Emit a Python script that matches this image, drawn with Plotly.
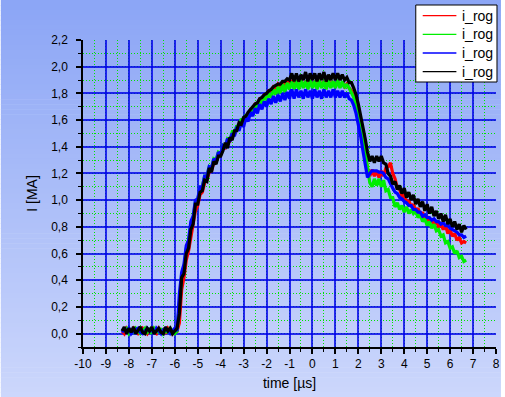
import numpy as np
import plotly.graph_objects as go

# sampling grid of the measurement (µs), -8.3 ... 6.7 in 0.1 steps
time_us = np.round(np.arange(-83, 68) / 10.0, 1)

series_names = ["i_rog", "i_rog", "i_rog", "i_rog"]
series_colors = ["#ff0000", "#00ee00", "#0000ff", "#000000"]

current_red = [
    0.02, 0.00, 0.04, 0.02, 0.01, 0.04, 0.02, 0.00, 0.02, 0.04,
    0.02, 0.00, 0.03, 0.04, 0.01, 0.00, 0.04, 0.02, 0.03, 0.00,
    0.04, 0.02, 0.00, 0.03, 0.02,
    0.08, 0.33, 0.42, 0.55, 0.62, 0.73, 0.81, 0.92, 0.96,
    1.04, 1.06, 1.13, 1.15, 1.21, 1.22, 1.28, 1.29, 1.33, 1.34,
    1.39, 1.39, 1.44, 1.44, 1.49, 1.49, 1.54, 1.55, 1.59, 1.60,
    1.63, 1.64, 1.68, 1.68, 1.72, 1.72, 1.76, 1.76, 1.79, 1.79,
    1.82, 1.82, 1.85, 1.84, 1.87, 1.85, 1.88, 1.85, 1.89, 1.85,
    1.90, 1.85, 1.89, 1.84, 1.90, 1.85, 1.89, 1.84, 1.90, 1.85,
    1.89, 1.84, 1.90, 1.85, 1.89, 1.84, 1.90, 1.85, 1.89, 1.85,
    1.89, 1.85, 1.88, 1.85, 1.87, 1.84, 1.82, 1.78, 1.72, 1.65,
    1.56, 1.46, 1.35, 1.24, 1.18, 1.23, 1.18, 1.22, 1.17, 1.22,
    1.18, 1.24, 1.25, 1.28, 1.20, 1.16, 1.09, 1.08, 1.03, 1.04,
    0.98, 1.00, 0.95, 0.97, 0.92, 0.94, 0.89, 0.91, 0.86, 0.88,
    0.83, 0.86, 0.81, 0.84, 0.80, 0.82, 0.78, 0.81, 0.75, 0.78,
    0.73, 0.75, 0.70, 0.72, 0.68, 0.69, 0.68,
]

current_green = [
    0.02, 0.03, 0.04, 0.00, 0.02, 0.01, 0.04, 0.02, 0.00, 0.02,
    0.04, 0.01, 0.03, 0.00, 0.04, 0.02, 0.01, 0.04, 0.00, 0.02,
    0.01, 0.04, 0.02, 0.00, 0.02,
    0.25, 0.43, 0.49, 0.64, 0.68, 0.82, 0.86, 0.99, 1.00,
    1.09, 1.10, 1.18, 1.18, 1.25, 1.24, 1.31, 1.30, 1.36, 1.35,
    1.41, 1.40, 1.46, 1.45, 1.51, 1.50, 1.56, 1.54, 1.61, 1.59,
    1.64, 1.62, 1.68, 1.66, 1.71, 1.69, 1.75, 1.72, 1.78, 1.75,
    1.80, 1.77, 1.83, 1.79, 1.85, 1.80, 1.87, 1.81, 1.88, 1.83,
    1.89, 1.83, 1.89, 1.83, 1.90, 1.84, 1.89, 1.83, 1.90, 1.84,
    1.89, 1.83, 1.90, 1.84, 1.89, 1.83, 1.90, 1.84, 1.89, 1.84,
    1.90, 1.84, 1.89, 1.84, 1.87, 1.84, 1.81, 1.77, 1.71, 1.64,
    1.56, 1.47, 1.36, 1.24, 1.13, 1.10, 1.16, 1.11, 1.16, 1.10,
    1.15, 1.07, 1.08, 1.02, 1.02, 0.95, 0.98, 0.93, 0.96, 0.91,
    0.95, 0.90, 0.93, 0.90, 0.92, 0.87, 0.89, 0.84, 0.86, 0.81,
    0.84, 0.79, 0.82, 0.77, 0.78, 0.73, 0.74, 0.68, 0.69, 0.64,
    0.65, 0.60, 0.62, 0.57, 0.58, 0.54, 0.55,
]

current_blue = [
    0.01, 0.03, 0.02, 0.04, 0.00, 0.02, 0.03, 0.04, 0.01, 0.00,
    0.02, 0.04, 0.02, 0.03, 0.00, 0.04, 0.02, 0.00, 0.03, 0.04,
    0.02, 0.00, 0.02, 0.04, 0.02,
    0.30, 0.46, 0.52, 0.66, 0.70, 0.84, 0.88, 1.00, 1.01,
    1.10, 1.10, 1.18, 1.18, 1.25, 1.24, 1.31, 1.29, 1.36, 1.34,
    1.41, 1.40, 1.46, 1.44, 1.50, 1.48, 1.55, 1.52, 1.58, 1.55,
    1.62, 1.59, 1.66, 1.63, 1.69, 1.65, 1.72, 1.68, 1.74, 1.70,
    1.76, 1.72, 1.78, 1.73, 1.79, 1.74, 1.80, 1.75, 1.81, 1.76,
    1.83, 1.76, 1.83, 1.77, 1.82, 1.76, 1.83, 1.77, 1.82, 1.76,
    1.83, 1.77, 1.82, 1.76, 1.83, 1.77, 1.82, 1.77, 1.83, 1.77,
    1.82, 1.77, 1.82, 1.77, 1.80, 1.76, 1.75, 1.71, 1.65, 1.57,
    1.48, 1.37, 1.26, 1.17, 1.20, 1.22, 1.22, 1.22, 1.21, 1.21,
    1.20, 1.17, 1.16, 1.12, 1.09, 1.06, 1.05, 1.02, 1.01, 0.99,
    0.98, 0.96, 0.96, 0.93, 0.93, 0.91, 0.91, 0.88, 0.89, 0.87,
    0.87, 0.85, 0.86, 0.84, 0.84, 0.82, 0.83, 0.81, 0.81, 0.79,
    0.78, 0.77, 0.76, 0.74, 0.74, 0.72, 0.73,
]

current_black = [
    0.02, 0.05, 0.00, 0.04, 0.01, 0.05, 0.00, 0.03, 0.05, 0.01,
    0.00, 0.04, 0.02, 0.05, 0.00, 0.02, 0.04, 0.01, 0.00, 0.05,
    0.02, 0.04, 0.00, 0.02, 0.04,
    0.15, 0.42, 0.45, 0.60, 0.64, 0.78, 0.82, 0.97, 0.97,
    1.06, 1.07, 1.15, 1.14, 1.24, 1.21, 1.29, 1.27, 1.33, 1.33,
    1.37, 1.43, 1.39, 1.47, 1.45, 1.52, 1.52, 1.58, 1.57, 1.62,
    1.63, 1.66, 1.68, 1.70, 1.72, 1.73, 1.76, 1.77, 1.79, 1.80,
    1.82, 1.83, 1.85, 1.86, 1.87, 1.87, 1.89, 1.89, 1.91, 1.90,
    1.95, 1.89, 1.95, 1.89, 1.94, 1.90, 1.96, 1.89, 1.95, 1.90,
    1.95, 1.89, 1.95, 1.90, 1.96, 1.89, 1.94, 1.90, 1.95, 1.90,
    1.95, 1.90, 1.94, 1.90, 1.92, 1.88, 1.88, 1.84, 1.79, 1.72,
    1.64, 1.55, 1.46, 1.36, 1.29, 1.33, 1.28, 1.33, 1.29, 1.33,
    1.28, 1.27, 1.20, 1.18, 1.12, 1.14, 1.08, 1.11, 1.05, 1.09,
    1.02, 1.06, 1.00, 1.04, 0.97, 1.01, 0.95, 0.99, 0.92, 0.97,
    0.90, 0.95, 0.88, 0.92, 0.86, 0.90, 0.84, 0.89, 0.82, 0.86,
    0.80, 0.84, 0.78, 0.82, 0.76, 0.81, 0.78,
]

x_tick_vals = list(range(-10, 9))
x_tick_labels = ["-10", "-9", "-8", "-7", "-6", "-5", "-4", "-3", "-2", "-1",
                 "0", "1", "2", "3", "4", "5", "6", "7", "8"]
y_tick_vals = [0.0, 0.2, 0.4, 0.6, 0.8, 1.0, 1.2, 1.4, 1.6, 1.8, 2.0, 2.2]
y_tick_labels = ["0,0", "0,2", "0,4", "0,6", "0,8", "1,0", "1,2", "1,4",
                 "1,6", "1,8", "2,0", "2,2"]

all_series = [current_red, current_green, current_blue, current_black]

W, H = 505, 397
ML, MR, MT, MB = 83, 5, 40, 50
FONT = "Arial, Liberation Sans, sans-serif"
pw = W - ML - MR
ph = H - MT - MB
X_RANGE = [-10, 8]
Y_RANGE = [-0.1, 2.2]


def px_x(p):
    return (p - ML) / pw


def px_y(p):
    return (H - MB - p) / ph


fig = go.Figure()
for name, vals, col in zip(series_names, all_series, series_colors):
    fig.add_trace(go.Scatter(x=time_us, y=vals, mode="lines", name=name,
                             line=dict(color=col, width=3.2),
                             showlegend=False, hoverinfo="skip"))
# empty trace that carries the grid-only overlay x axis
fig.add_trace(go.Scatter(x=[None], y=[None], xaxis="x2", yaxis="y",
                         showlegend=False, hoverinfo="skip"))

# vertical background gradient
top = np.array([140, 166, 246])
bot = np.array([204, 215, 252])
n = 80
y_lo = -MB / ph
y_hi = 1 + MT / ph
shapes = []
for i in range(n):
    f = i / (n - 1)
    c = top + (bot - top) * f
    y1 = y_hi - (y_hi - y_lo) * i / n
    y0 = y_hi - (y_hi - y_lo) * (i + 1) / n
    shapes.append(dict(type="rect", xref="paper", yref="paper",
                       x0=-ML / pw, x1=1 + MR / pw, y0=y0 - 0.002, y1=y1,
                       fillcolor="rgb(%d,%d,%d)" % tuple(c.astype(int)),
                       line=dict(width=0), layer="below"))

# hand-made legend box (white, black frame) in the top-right corner
annotations = []
shapes.append(dict(type="rect", xref="paper", yref="paper",
                   x0=px_x(419), x1=px_x(501), y0=px_y(82), y1=px_y(5),
                   fillcolor="white", line=dict(color="black", width=1),
                   layer="above"))
entry_y = [15.7, 34.3, 53.0, 71.7]
for name, col, ey in zip(series_names, series_colors, entry_y):
    shapes.append(dict(type="line", xref="paper", yref="paper",
                       x0=px_x(426), x1=px_x(460), y0=px_y(ey), y1=px_y(ey),
                       line=dict(color=col, width=1.3), layer="above"))
    annotations.append(dict(xref="paper", yref="paper", x=px_x(464),
                            y=px_y(ey), text=name, showarrow=False,
                            xanchor="left", yanchor="middle",
                            font=dict(family=FONT, size=14, color="black")))

GRID_MAJOR = "rgba(0,0,235,0.8)"
axis_common = dict(
    showline=True, linecolor="black", linewidth=1.5,
    ticks="outside", ticklen=5, tickwidth=1.5, tickcolor="black",
    zeroline=False,
    tickfont=dict(family=FONT, size=12, color="black"),
)
minor_common = dict(ticks="outside", ticklen=3, tickcolor="black",
                    tickwidth=1.2, showgrid=True, gridcolor="#00e600",
                    griddash="1px,2px", gridwidth=1)

fig.update_layout(
    width=W, height=H,
    margin=dict(l=ML, r=MR, t=MT, b=MB),
    paper_bgcolor="rgba(0,0,0,0)", plot_bgcolor="rgba(0,0,0,0)",
    shapes=shapes, annotations=annotations,
    font=dict(family=FONT, color="black"),
    xaxis=dict(range=X_RANGE, tickmode="array", tickvals=x_tick_vals,
               ticktext=x_tick_labels, showgrid=False,
               minor=dict(dtick=0.5, tick0=0, **minor_common),
               title=dict(text="time [µs]", font=dict(size=14), standoff=8),
               **axis_common),
    xaxis2=dict(range=X_RANGE, overlaying="x", anchor="y",
                tickmode="array", tickvals=x_tick_vals[1:-1],
                showticklabels=False, ticks="", showline=False,
                zeroline=False, showgrid=True, gridcolor=GRID_MAJOR,
                gridwidth=1.6),
    yaxis=dict(range=Y_RANGE, tickmode="array", tickvals=y_tick_vals,
               ticktext=y_tick_labels, ticklabelstandoff=6,
               showgrid=True, gridcolor=GRID_MAJOR, gridwidth=1.6,
               minor=dict(dtick=0.1, tick0=0, **minor_common),
               title=dict(text="I [MA]", font=dict(size=14), standoff=10),
               **axis_common),
    showlegend=False,
)

fig.write_html("out.html")
